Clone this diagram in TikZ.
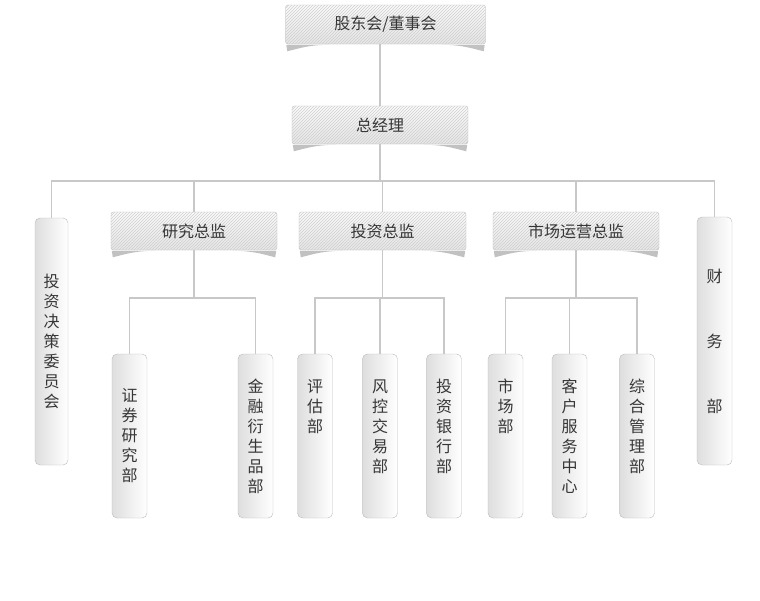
\documentclass[tikz,border=0pt]{standalone}
\usepackage{fontspec}
\newfontfamily\cjk{Noto Sans CJK SC}
\usetikzlibrary{patterns,positioning}
\usepackage{xcolor}
\definecolor{linkgray}{HTML}{C8C8C8}
\definecolor{edgegray}{HTML}{BBBBBB}
\definecolor{txtgray}{HTML}{363636}

\begin{document}
\begin{tikzpicture}[x=1pt, y=1pt]
\tikzset{
    hdr/.style={rectangle, rounded corners=2.5pt, draw=edgegray, top color=gray!3, bottom color=gray!20,
        postaction={pattern=north east lines, pattern color=gray!38}, minimum height=38pt, inner sep=0pt,
        text=txtgray, font=\cjk\fontsize{16}{20}\selectfont},
    dept/.style={rectangle, rounded corners=5pt, draw=edgegray, left color=gray!26, right color=white,
        minimum width=35pt, minimum height=164pt, inner sep=0pt, align=center,
        text=txtgray, font=\cjk\fontsize{16}{20}\selectfont},
    link/.style={draw=linkgray, line width=1.6pt},
    curl/.style={fill=gray!60, opacity=.8}
}
\useasboundingbox (0,0) rectangle (760,-600);

\node[hdr, minimum width=200pt, minimum height=39pt] (board) at (385.5,-24.5) {股东会/董事会};
\node[hdr, minimum width=176pt] (gm) at (380,-125) {总经理};
\node[hdr, minimum width=166pt] (rd) at (194,-231) {研究总监};
\node[hdr, minimum width=167pt] (inv) at (382.5,-231) {投资总监};
\node[hdr, minimum width=166pt] (mkt) at (576,-231) {市场运营总监};

\node[dept, minimum width=33pt, minimum height=247pt] (ic) at (51.5,-341.5) {投\\资\\决\\策\\委\\员\\会};
\node[dept, minimum height=248pt] (fin) at (714.5,-341) {财\\[45pt]务\\[45pt]部};

\node[dept] (sec) at (129.5,-436) {证\\券\\研\\究\\部};
\node[dept] (deriv) at (255.5,-436) {金\\融\\衍\\生\\品\\部};
\node[dept] (eval) at (315,-436) {评\\估\\部\\\mbox{}\\\mbox{}\\\mbox{}};
\node[dept] (risk) at (380,-436) {风\\控\\交\\易\\部\\\mbox{}};
\node[dept] (ib) at (444,-436) {投\\资\\银\\行\\部\\\mbox{}};
\node[dept] (mktd) at (505.5,-436) {市\\场\\部\\\mbox{}\\\mbox{}\\\mbox{}};
\node[dept] (cs) at (569.5,-436) {客\\户\\服\\务\\中\\心};
\node[dept] (admin) at (637,-436) {综\\合\\管\\理\\部\\\mbox{}};

% curled shadows under the header boxes
\foreach \h in {board,gm,rd,inv,mkt} {
    \fill[curl] ([xshift=1pt, yshift=-.6pt]\h.south west) -- ++(1,-6.5) .. controls +(12,3) and +(-20,0) .. ([xshift=44pt, yshift=-.6pt]\h.south west) -- cycle;
    \fill[curl] ([xshift=-1pt, yshift=-.6pt]\h.south east) -- ++(-1,-6.5) .. controls +(-12,3) and +(20,0) .. ([xshift=-44pt, yshift=-.6pt]\h.south east) -- cycle;
}

\draw[link] (gm.north |- board.south) -- (gm.north);
\foreach \c in {ic,rd,inv,mkt,fin}
    \draw[link] (gm.south) -- ++(0,-37) -| (\c.north);
\foreach \c in {sec,deriv}
    \draw[link] (rd.south) -- ++(0,-48) -| (\c.north);
\foreach \c in {eval,risk,ib}
    \draw[link] (inv.south) -- ++(0,-48) -| (\c.north);
\foreach \c in {mktd,cs,admin}
    \draw[link] (mkt.south) -- ++(0,-48) -| (\c.north);

\end{tikzpicture}
\end{document}
